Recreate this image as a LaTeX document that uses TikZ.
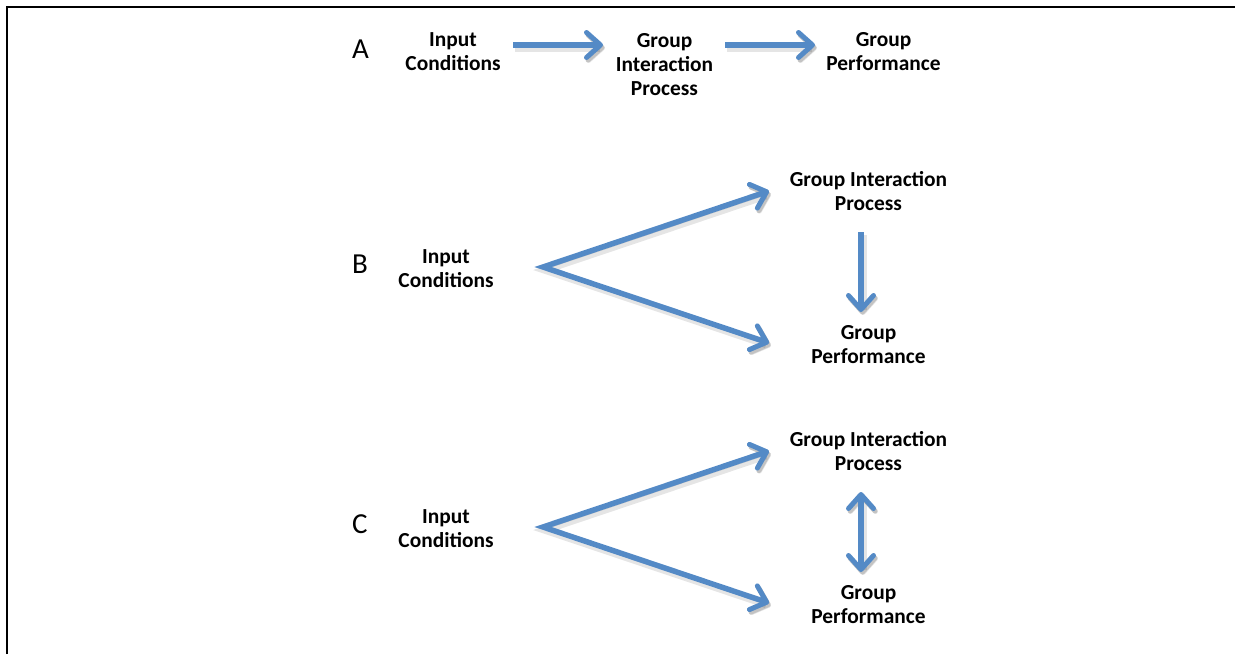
\documentclass[tikz,border=0pt]{standalone}
\usepackage{fontspec}
\setmainfont{Carlito}
\usetikzlibrary{arrows.meta}
\definecolor{flowblue}{RGB}{84,138,198}
\begin{document}
\begin{tikzpicture}[x=1pt,y=-1pt,
  label/.style={font=\bfseries\fontsize{21.4}{23.6}\selectfont, align=center, inner sep=0pt, anchor=base},
  tag/.style={font=\fontsize{29}{30}\selectfont, inner sep=0pt, anchor=base west},
  barb/.tip={Straight Barb[length=14pt,width=25pt,line width=5pt,round]},
  flow/.style={draw=flowblue, line width=5.5pt, line join=miter, -barb,
    preaction={draw=black, opacity=0.10, line width=7.5pt, transform canvas={shift={(2,3)}}},
    preaction={draw=black, opacity=0.15, transform canvas={shift={(1.5,2.5)}}}},
  twoway/.style={flow, barb-barb}
]
\useasboundingbox (0,0) rectangle (1235,654);
% frame: left and top rules
\draw[line width=2pt] (7,654) -- (7,7) -- (1235,7);

% ---- panel A: linear chain (anchors sit on the last text line)
\node[tag] (tagA) at (352,58) {A};
\node[label] (a-in) at (453,70.5) {Input\\Conditions};
\node[label] (a-gip) at (664.5,95) {Group\\Interaction\\Process};
\node[label] (a-gp) at (883.5,70.5) {Group\\Performance};
\coordinate (a1s) at (513,45);
\coordinate (a1e) at (603,45);
\coordinate (a2s) at (725,45);
\coordinate (a2e) at (815,45);
\draw[flow] (a1s) -- (a1e);
\draw[flow] (a2s) -- (a2e);

% ---- panel B: input feeds both, process feeds performance
\node[tag] (tagB) at (352,273) {B};
\node[label] (b-in) at (446,287) {Input\\Conditions};
\node[label] (b-gip) at (868.5,210.5) {Group Interaction\\Process};
\node[label] (b-gp) at (868.5,363.5) {Group\\Performance};
\coordinate (b-v) at (543,267);
\coordinate (b-t1) at (769,191);
\coordinate (b-t2) at (769,343);
\coordinate (b-ds) at (861,232);
\coordinate (b-de) at (861,312);
\draw[twoway] (b-t1) -- (b-v) -- (b-t2);
\draw[flow] (b-ds) -- (b-de);

% ---- panel C: input feeds both, process and performance interact
\node[tag] (tagC) at (352,533) {C};
\node[label] (c-in) at (446,547) {Input\\Conditions};
\node[label] (c-gip) at (868.5,470.5) {Group Interaction\\Process};
\node[label] (c-gp) at (868.5,623.5) {Group\\Performance};
\coordinate (c-v) at (543,527);
\coordinate (c-t1) at (769,451);
\coordinate (c-t2) at (769,603);
\coordinate (c-ds) at (861,492);
\coordinate (c-de) at (861,572);
\draw[twoway] (c-t1) -- (c-v) -- (c-t2);
\draw[twoway] (c-ds) -- (c-de);
\end{tikzpicture}
\end{document}
